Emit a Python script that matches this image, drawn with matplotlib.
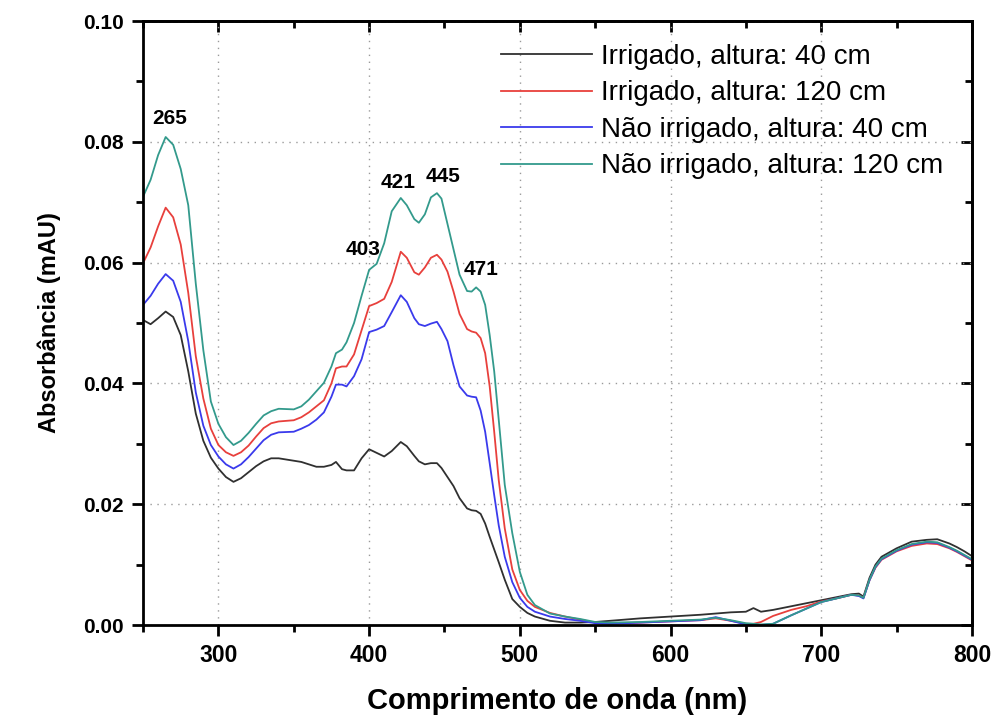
import matplotlib.pyplot as plt
from matplotlib.ticker import MultipleLocator, FormatStrFormatter

# wavelength grid (nm) shared by all four spectra
wl = [250, 255, 260, 265, 270, 275, 280, 285, 290, 295, 300, 305, 310, 315, 320, 325,
      330, 335, 340, 350, 355, 360, 365, 370, 375, 378, 382, 385, 390, 395, 400, 405,
      410, 415, 421, 425, 430, 433, 437, 441, 445, 448, 452, 456, 460, 465, 468, 471,
      474, 477, 480, 483, 486, 490, 495, 500, 505, 510, 520, 530, 540, 550, 560, 580,
      600, 620, 630, 640, 650, 655, 660, 668, 680, 690, 700, 710, 720, 725, 728, 732,
      736, 740, 750, 760, 770, 777, 785, 790, 795, 800]

irr_40 = [0.0505, 0.0498, 0.0508, 0.0519, 0.0510, 0.0480, 0.0420, 0.0350, 0.0305, 0.0277,
          0.0259, 0.0245, 0.0237, 0.0243, 0.0253, 0.0263, 0.0271, 0.0276, 0.0276, 0.0272,
          0.0270, 0.0266, 0.0262, 0.0262, 0.0265, 0.0270, 0.0258, 0.0256, 0.0256, 0.0276,
          0.0291, 0.0285, 0.0279, 0.0288, 0.0303, 0.0296, 0.0280, 0.0271, 0.0266, 0.0268,
          0.0268, 0.0260, 0.0245, 0.0230, 0.0210, 0.0193, 0.0190, 0.0189, 0.0184, 0.0168,
          0.0146, 0.0125, 0.0104, 0.0075, 0.0043, 0.0030, 0.0020, 0.0014, 0.0007, 0.0004,
          0.0004, 0.0005, 0.0007, 0.0011, 0.0014, 0.0017, 0.0019, 0.0021, 0.0022, 0.0028,
          0.0022, 0.0025, 0.0031, 0.0036, 0.0041, 0.0046, 0.0051, 0.0052, 0.0047, 0.0078,
          0.0100, 0.0113, 0.0127, 0.0138, 0.0141, 0.0142, 0.0135, 0.0129, 0.0122, 0.0114]

irr_120 = [0.0599, 0.0625, 0.0660, 0.0691, 0.0675, 0.0630, 0.0550, 0.0445, 0.0375, 0.0325,
           0.0298, 0.0286, 0.0280, 0.0286, 0.0297, 0.0312, 0.0326, 0.0334, 0.0337, 0.0339,
           0.0344, 0.0352, 0.0362, 0.0372, 0.0400, 0.0425, 0.0428, 0.0428, 0.0448, 0.0488,
           0.0528, 0.0533, 0.0540, 0.0568, 0.0618, 0.0608, 0.0584, 0.0580, 0.0592, 0.0608,
           0.0613, 0.0605, 0.0585, 0.0552, 0.0515, 0.0490, 0.0486, 0.0484, 0.0475, 0.0450,
           0.0395, 0.0320, 0.0240, 0.0160, 0.0092, 0.0058, 0.0040, 0.0030, 0.0020, 0.0014,
           0.0009, 0.0004, 0.0003, 0.0004, 0.0006, 0.0008, 0.0011, 0.0007, 0.0002, 0.0002,
           0.0005, 0.0015, 0.0025, 0.0031, 0.0039, 0.0044, 0.0050, 0.0049, 0.0045, 0.0074,
           0.0095, 0.0108, 0.0122, 0.0131, 0.0135, 0.0134, 0.0127, 0.0121, 0.0114, 0.0107]

nirr_40 = [0.0530, 0.0545, 0.0565, 0.0581, 0.0570, 0.0535, 0.0470, 0.0385, 0.0330, 0.0298,
           0.0279, 0.0266, 0.0259, 0.0266, 0.0278, 0.0292, 0.0306, 0.0315, 0.0319, 0.0320,
           0.0325, 0.0331, 0.0340, 0.0352, 0.0378, 0.0398, 0.0398, 0.0395, 0.0412, 0.0440,
           0.0485, 0.0489, 0.0495, 0.0518, 0.0546, 0.0535, 0.0508, 0.0498, 0.0495, 0.0499,
           0.0502, 0.0490, 0.0470, 0.0430, 0.0395, 0.0380, 0.0378, 0.0377, 0.0355, 0.0320,
           0.0268, 0.0215, 0.0165, 0.0113, 0.0071, 0.0045, 0.0030, 0.0022, 0.0014, 0.0010,
           0.0007, 0.0003, 0.0002, 0.0004, 0.0006, 0.0008, 0.0013, 0.0007, 0.0001, 0.0001,
           0.0000, 0.0002, 0.0016, 0.0027, 0.0038, 0.0044, 0.0050, 0.0048, 0.0044, 0.0074,
           0.0096, 0.0109, 0.0123, 0.0133, 0.0137, 0.0136, 0.0128, 0.0122, 0.0115, 0.0108]

nirr_120 = [0.0709, 0.0737, 0.0778, 0.0808, 0.0795, 0.0755, 0.0695, 0.0565, 0.0455, 0.0370,
            0.0333, 0.0311, 0.0298, 0.0305, 0.0318, 0.0333, 0.0347, 0.0354, 0.0358, 0.0357,
            0.0362, 0.0373, 0.0387, 0.0401, 0.0428, 0.0450, 0.0456, 0.0468, 0.0500, 0.0545,
            0.0588, 0.0598, 0.0632, 0.0685, 0.0707, 0.0695, 0.0672, 0.0666, 0.0680, 0.0708,
            0.0715, 0.0706, 0.0664, 0.0622, 0.0580, 0.0553, 0.0552, 0.0559, 0.0552, 0.0530,
            0.0480, 0.0420, 0.0340, 0.0232, 0.0152, 0.0088, 0.0050, 0.0033, 0.0019, 0.0014,
            0.0010, 0.0005, 0.0004, 0.0005, 0.0007, 0.0009, 0.0012, 0.0008, 0.0003, 0.0002,
            0.0001, 0.0002, 0.0016, 0.0027, 0.0038, 0.0044, 0.0050, 0.0049, 0.0045, 0.0075,
            0.0097, 0.0110, 0.0124, 0.0134, 0.0138, 0.0137, 0.0129, 0.0123, 0.0116, 0.0109]

labels = ["Irrigado, altura: 40 cm", "Irrigado, altura: 120 cm",
          "Não irrigado, altura: 40 cm", "Não irrigado, altura: 120 cm"]
colors = ["#303030", "#e8403c", "#3a3aec", "#339a8c"]

# band labels: (text, x, y)
peaks = [("265", 268, 0.0839), ("403", 396, 0.0621), ("421", 419, 0.0732),
         ("445", 449, 0.0743), ("471", 474, 0.0588)]

font = ["Liberation Sans", "DejaVu Sans"]

fig = plt.figure(figsize=(9.92, 7.17), dpi=100)
ax = fig.add_axes([0.1442, 0.1283, 0.8356, 0.8424])

for ys, lab, c in zip([irr_40, irr_120, nirr_40, nirr_120], labels, colors):
    ax.plot(wl, ys, color=c, lw=1.3, label=lab)

for txt, x, y in peaks:
    ax.text(x, y, txt, ha="center", va="center", fontsize=15, fontweight="bold", family=font)

ax.set_xlim(250, 800)
ax.set_ylim(0, 0.10)
ax.xaxis.set_major_locator(MultipleLocator(100))
ax.xaxis.set_minor_locator(MultipleLocator(50))
ax.yaxis.set_major_locator(MultipleLocator(0.02))
ax.yaxis.set_minor_locator(MultipleLocator(0.01))
ax.yaxis.set_major_formatter(FormatStrFormatter("%.2f"))
ax.set_xticks([300, 400, 500, 600, 700, 800])

ax.grid(True, which="major", color="#9a9a9a", lw=1.0, linestyle=(0, (1, 4)))
for s in ax.spines.values():
    s.set_linewidth(2)

ax.tick_params(which="major", direction="out", length=8, width=2, pad=6)
ax.tick_params(which="minor", direction="out", length=5, width=2)
for t in ax.get_xticklabels():
    t.set_family(font)
    t.set_fontweight("bold")
    t.set_fontsize(16.5)
for t in ax.get_yticklabels():
    t.set_family(font)
    t.set_fontweight("bold")
    t.set_fontsize(15)

# mirrored ticks on top and right, pointing inward
top = ax.secondary_xaxis("top")
top.xaxis.set_major_locator(MultipleLocator(100))
top.xaxis.set_minor_locator(MultipleLocator(50))
top.tick_params(which="major", direction="in", length=8, width=2, labeltop=False)
top.tick_params(which="minor", direction="in", length=5, width=2)
top.spines["top"].set_linewidth(2)
right = ax.secondary_yaxis("right")
right.yaxis.set_major_locator(MultipleLocator(0.02))
right.yaxis.set_minor_locator(MultipleLocator(0.01))
right.tick_params(which="major", direction="in", length=8, width=2, labelright=False)
right.tick_params(which="minor", direction="in", length=5, width=2)
right.spines["right"].set_linewidth(2)

ax.set_xlabel("Comprimento de onda (nm)", fontsize=21, fontweight="bold",
              family=font, labelpad=14)
ax.set_ylabel("Absorbância (mAU)", fontsize=17, fontweight="bold", family=font, labelpad=16)

ax.legend(loc="upper right", bbox_to_anchor=(0.985, 0.99), frameon=False,
          handlelength=3.3, handletextpad=0.3, labelspacing=0.38, borderaxespad=0.2,
          prop={"family": font[0], "size": 20})

fig.savefig("out.png", dpi=100)
